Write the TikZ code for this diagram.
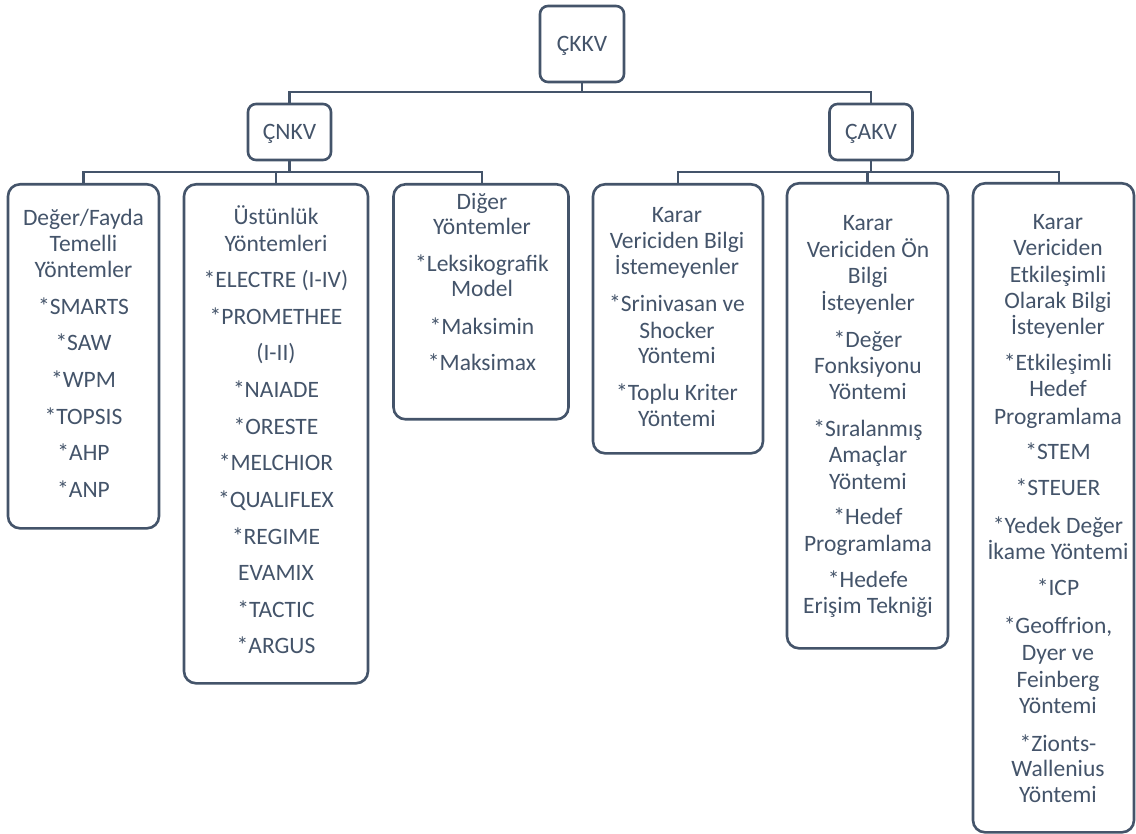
\documentclass[tikz,border=0pt]{standalone}
\usepackage{fontspec}
\setmainfont{Carlito}
\definecolor{ink}{HTML}{44546A}
\begin{document}
\begin{tikzpicture}[x=1pt,y=-1pt,
  box/.style={draw=ink, line width=2.6pt, rounded corners=12pt, fill=white},
  sbox/.style={draw=ink, line width=2.6pt, rounded corners=8pt, fill=white},
  conn/.style={draw=ink, line width=2.6pt},
  txt/.style={text=ink, inner sep=0pt, anchor=base, font=\fontsize{23.5}{26}\selectfont}]
\useasboundingbox (0,0) rectangle (1136,834);
% boxes
\node[sbox, minimum width=84pt, minimum height=76pt] (root) at (582,44) {};
\node[sbox, minimum width=83pt, minimum height=56pt] (cnkv) at (289.5,132) {};
\node[sbox, minimum width=83pt, minimum height=56pt] (cakv) at (871,132) {};
\node[box, minimum width=151pt, minimum height=344pt, anchor=north] (b1) at (83.5,183) {};
\node[box, minimum width=184pt, minimum height=499pt, anchor=north] (b2) at (276,183) {};
\node[box, minimum width=175pt, minimum height=235pt, anchor=north] (b3) at (481,183) {};
\node[box, minimum width=170pt, minimum height=269pt, anchor=north] (b4) at (678,183) {};
\node[box, minimum width=161pt, minimum height=465pt, anchor=north] (b5) at (867.5,182) {};
\node[box, minimum width=161pt, minimum height=649pt, anchor=north] (b6) at (1053.5,182) {};
% connectors
\coordinate (h1) at (0,92);
\coordinate (h2) at (0,172);
\draw[conn] (root.south) -- (root.south |- h1);
\draw[conn] (cnkv.north) -- (cnkv.north |- h1) -- (cakv.north |- h1) -- (cakv.north);
\draw[conn] (cnkv.south) -- (cnkv.south |- h2);
\draw[conn] (b1.north) -- (b1.north |- h2) -- (482,172) -- (482,183);
\draw[conn] (b2.north) -- (b2.north |- h2);
\draw[conn] (cakv.south) -- (cakv.south |- h2);
\draw[conn] (b4.north) -- (b4.north |- h2) -- (1059,172) -- (1059,182);
\draw[conn] (b5.north) -- (b5.north |- h2);
% titles
\node[txt] (troot) at (582,51.5) {ÇKKV};
\node[txt] (tcnkv) at (289.5,139.5) {ÇNKV};
\node[txt] (tcakv) at (871,139.5) {ÇAKV};
% box 1
\node[txt] (t1a) at (83.5,225.5) {Değer/Fayda};
\node[txt] (t1b) at (83.5,251.5) {Temelli};
\node[txt] (t1c) at (83.5,277.5) {Yöntemler};
\node[txt] (t1d) at (83.5,314.5) {*SMARTS};
\node[txt] (t1e) at (83.5,350.5) {*SAW};
\node[txt] (t1f) at (83.5,387.5) {*WPM};
\node[txt] (t1g) at (83.5,424.5) {*TOPSIS};
\node[txt] (t1h) at (83.5,460.5) {*AHP};
\node[txt] (t1i) at (83.5,497.5) {*ANP};
% box 2
\node[txt] (t2a) at (276,224.5) {Üstünlük};
\node[txt] (t2b) at (276,251.5) {Yöntemleri};
\node[txt] (t2c) at (276,287.5) {*ELECTRE (I-IV)};
\node[txt] (t2d) at (276,324.5) {*PROMETHEE};
\node[txt] (t2e) at (276,360.5) {(I-II)};
\node[txt] (t2f) at (276,397.5) {*NAIADE};
\node[txt] (t2g) at (276,434.5) {*ORESTE};
\node[txt] (t2h) at (276,470.5) {*MELCHIOR};
\node[txt] (t2i) at (276,507.5) {*QUALIFLEX};
\node[txt] (t2j) at (276,544.5) {*REGIME};
\node[txt] (t2k) at (276,580.5) {EVAMIX};
\node[txt] (t2l) at (276,617.5) {*TACTIC};
\node[txt] (t2m) at (276,653.5) {*ARGUS};
% box 3
\node[txt] (t3a) at (482,209.5) {Diğer};
\node[txt] (t3b) at (482,234.5) {Yöntemler};
\node[txt] (t3c) at (482,271.5) {*Leksikografik};
\node[txt] (t3d) at (482,296.5) {Model};
\node[txt] (t3e) at (482,334.5) {*Maksimin};
\node[txt] (t3f) at (482,370.5) {*Maksimax};
% box 4
\node[txt] (t4a) at (677,222.5) {Karar};
\node[txt] (t4b) at (677,248.5) {Vericiden Bilgi};
\node[txt] (t4c) at (677,274.5) {İstemeyenler};
\node[txt] (t4d) at (677,311.5) {*Srinivasan ve};
\node[txt] (t4e) at (677,338.5) {Shocker};
\node[txt] (t4f) at (677,363.5) {Yöntemi};
\node[txt] (t4g) at (677,400.5) {*Toplu Kriter};
\node[txt] (t4h) at (677,426.5) {Yöntemi};
% box 5
\node[txt] (t5a) at (868,231) {Karar};
\node[txt] (t5b) at (868,257.5) {Vericiden Ön};
\node[txt] (t5c) at (868,284) {Bilgi};
\node[txt] (t5d) at (868,310.5) {İsteyenler};
\node[txt] (t5e) at (868,347.5) {*Değer};
\node[txt] (t5f) at (868,374) {Fonksiyonu};
\node[txt] (t5g) at (868,399.5) {Yöntemi};
\node[txt] (t5h) at (868,436) {*Sıralanmış};
\node[txt] (t5i) at (868,462.5) {Amaçlar};
\node[txt] (t5j) at (868,489) {Yöntemi};
\node[txt] (t5k) at (868,524.5) {*Hedef};
\node[txt] (t5l) at (868,551.5) {Programlama};
\node[txt] (t5m) at (868,587.5) {*Hedefe};
\node[txt] (t5n) at (868,613.5) {Erişim Tekniği};
% box 6
\node[txt] (t6a) at (1058,229.5) {Karar};
\node[txt] (t6b) at (1058,255.5) {Vericiden};
\node[txt] (t6c) at (1058,282.5) {Etkileşimli};
\node[txt] (t6d) at (1058,309) {Olarak Bilgi};
\node[txt] (t6e) at (1058,334.5) {İsteyenler};
\node[txt] (t6f) at (1058,370.5) {*Etkileşimli};
\node[txt] (t6g) at (1058,397) {Hedef};
\node[txt] (t6h) at (1058,424.5) {Programlama};
\node[txt] (t6i) at (1058,459.5) {*STEM};
\node[txt] (t6j) at (1058,495.5) {*STEUER};
\node[txt] (t6k) at (1058,533.5) {*Yedek Değer};
\node[txt] (t6l) at (1058,559.5) {İkame Yöntemi};
\node[txt] (t6m) at (1058,595.5) {*ICP};
\node[txt] (t6n) at (1058,633.5) {*Geoffrion,};
\node[txt] (t6o) at (1058,660.5) {Dyer ve};
\node[txt] (t6p) at (1058,687.5) {Feinberg};
\node[txt] (t6q) at (1058,713.5) {Yöntemi};
\node[txt] (t6r) at (1058,751.5) {*Zionts-};
\node[txt] (t6s) at (1058,776.5) {Wallenius};
\node[txt] (t6t) at (1058,802.5) {Yöntemi};
\end{tikzpicture}
\end{document}
